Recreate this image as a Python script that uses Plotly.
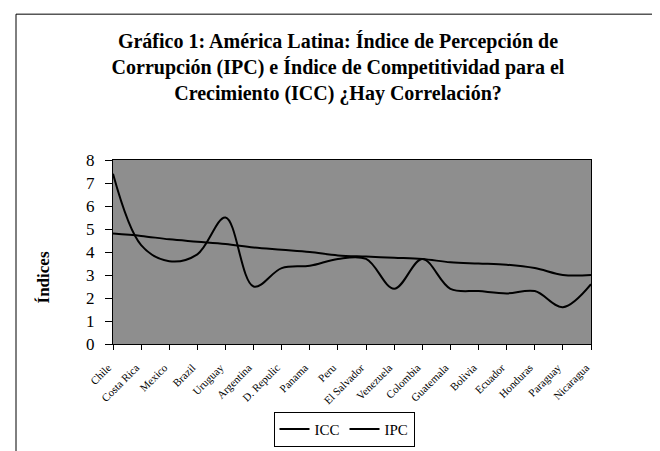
import plotly.graph_objects as go

countries = ["Chile", "Costa Rica", "Mexico", "Brazil", "Uruguay", "Argentina",
             "D. Repulic", "Panama", "Peru", "El Salvador", "Venezuela", "Colombia",
             "Guatemala", "Bolivia", "Ecuador", "Honduras", "Paraguay", "Nicaragua"]
icc = [4.8, 4.7, 4.55, 4.45, 4.35, 4.2, 4.1, 4.0, 3.85, 3.8, 3.75, 3.7,
       3.55, 3.5, 3.45, 3.3, 3.0, 3.0]
ipc = [7.4, 4.3, 3.6, 3.9, 5.5, 2.5, 3.3, 3.4, 3.7, 3.7, 2.4, 3.7,
       2.4, 2.3, 2.2, 2.3, 1.6, 2.6]
y_ticks = [0, 1, 2, 3, 4, 5, 6, 7, 8]

SERIF = "Liberation Serif, Times New Roman, serif"

fig = go.Figure()
fig.add_trace(go.Scatter(x=countries, y=icc, name="ICC", mode="lines",
                         line=dict(color="black", width=2, shape="spline", smoothing=1)))
fig.add_trace(go.Scatter(x=countries, y=ipc, name="IPC", mode="lines",
                         line=dict(color="black", width=2, shape="spline", smoothing=1)))

L, R, T, B = 105, 583, 152, 340
W, H = 660, 451

def px_x(x):
    return (x - L) / (R - L)

def px_y(y):
    return (B - y) / (B - T)

fig.update_layout(
    width=W, height=H,
    margin=dict(l=L, r=W - R, t=T, b=H - B),
    paper_bgcolor="white",
    plot_bgcolor="#8e8e8e",
    font=dict(family=SERIF, color="black"),
    title=dict(
        text="<b>Gráfico 1: América Latina: Índice de Percepción de<br>"
             "Corrupción (IPC) e Índice de Competitividad para el<br>"
             "Crecimiento (ICC) ¿Hay Correlación?</b>",
        x=0.5, xanchor="center", y=1 - 40 / H, yanchor="top",
        font=dict(family=SERIF, size=20, color="black"),
    ),
    showlegend=True,
    legend=dict(orientation="h", x=px_x(336), y=px_y(427), xanchor="center",
                yanchor="middle", bordercolor="black", borderwidth=1,
                bgcolor="white", font=dict(family=SERIF, size=15, color="black"),
                itemwidth=30, tracegroupgap=0),
    xaxis=dict(
        type="category", range=[0, len(countries) - 1],
        showgrid=False, zeroline=False,
        showline=True, linecolor="black", linewidth=1, mirror=True,
        ticks="outside", ticklen=5, tickcolor="black",
        tickangle=-45, tickfont=dict(family=SERIF, size=11, color="black"),
        ticklabelstandoff=7, ticklabelshift=-5,
    ),
    yaxis=dict(
        range=[0, 8], tickvals=y_ticks, showgrid=False, zeroline=False,
        showline=True, linecolor="black", linewidth=1, mirror=True,
        ticks="outside", ticklen=7, tickcolor="black",
        tickfont=dict(family=SERIF, size=17, color="black"),
        ticklabelstandoff=7,
    ),
    annotations=[dict(text="<b>Índices</b>", xref="paper", yref="paper",
                      x=px_x(35), y=px_y(272), textangle=-90, showarrow=False,
                      xanchor="center", yanchor="middle",
                      font=dict(family=SERIF, size=17, color="black"))],
    shapes=[dict(type="rect", xref="paper", yref="paper",
                 x0=px_x(8), x1=px_x(653), y0=px_y(470), y1=px_y(3),
                 line=dict(color="black", width=1), fillcolor="rgba(0,0,0,0)",
                 layer="above")],
)

fig.write_html("out.html")
